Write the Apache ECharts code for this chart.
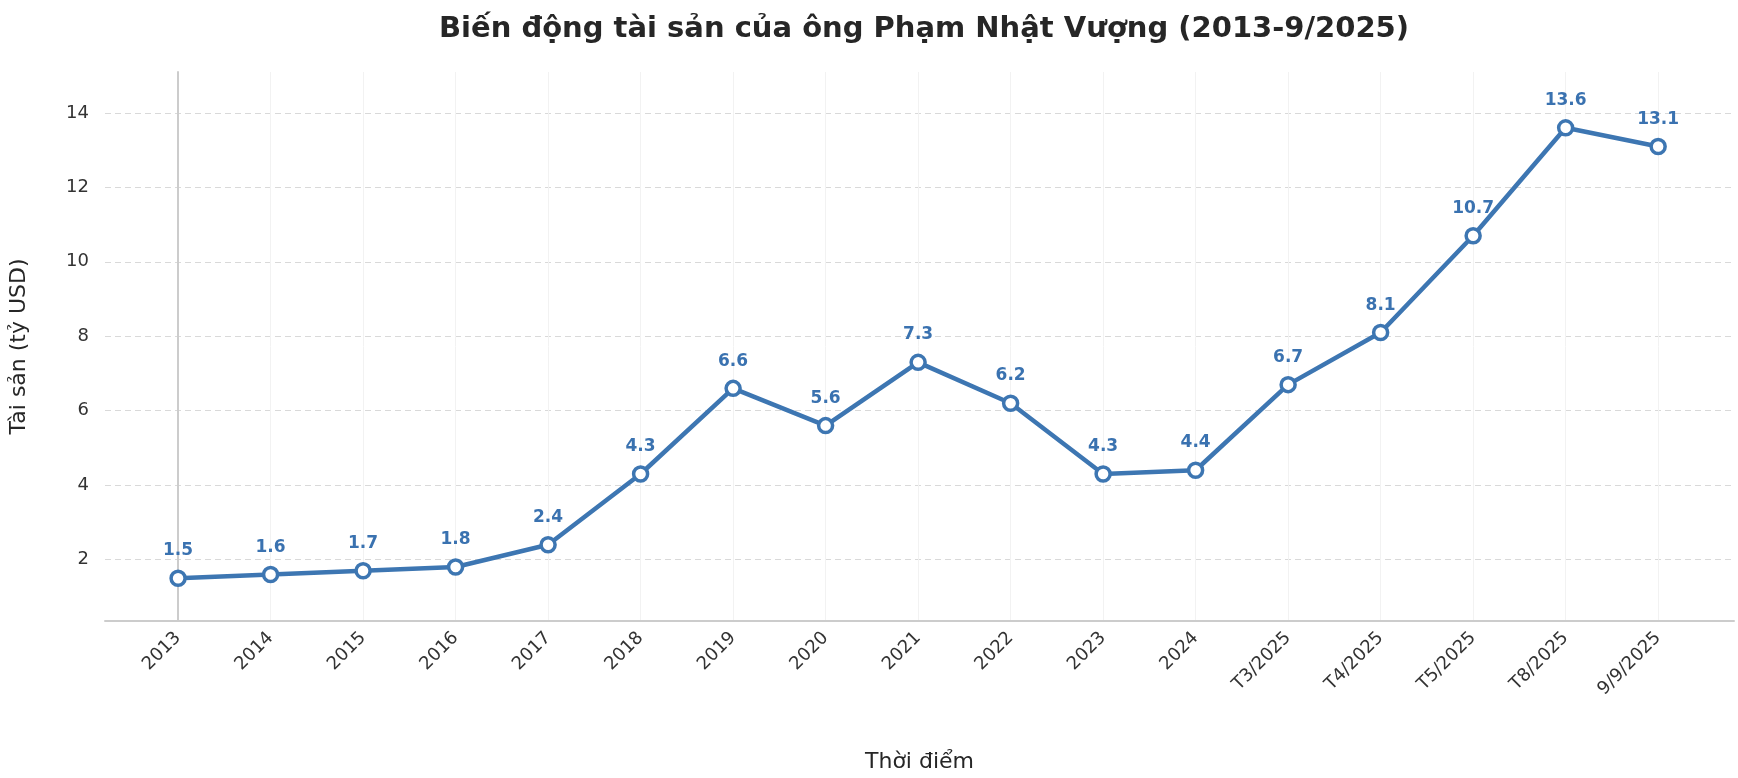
<!DOCTYPE html><html><head><meta charset="utf-8"><script src="https://cdn.jsdelivr.net/npm/echarts@6/dist/echarts.min.js"></script>
<style>html,body{margin:0;padding:0;background:#fff}#c{width:1738px;height:778px}</style></head><body><div id="c"></div><script>
const categories=['2013','2014','2015','2016','2017','2018','2019','2020','2021','2022','2023','2024','T3/2025','T4/2025','T5/2025','T8/2025','9/9/2025'];
const values=[1.5,1.6,1.7,1.8,2.4,4.3,6.6,5.6,7.3,6.2,4.3,4.4,6.7,8.1,10.7,13.6,13.1];
const yTicks=[2,4,6,8,10,12,14];
const idx=categories.map((_,i)=>i);
const chart=echarts.init(document.getElementById('c'));
chart.setOption({
 animation:false,
 title:{text:'Biến động tài sản của ông Phạm Nhật Vượng (2013-9/2025)',left:919,textAlign:'center',top:10,textStyle:{fontFamily:'DejaVu Sans',fontSize:29,fontWeight:'bold',color:'#262626'}},
 grid:{left:105,right:4,top:72,bottom:154},
 xAxis:{type:'value',min:-0.79,max:16.82,name:'Thời điểm',nameLocation:'middle',nameGap:130,
  nameTextStyle:{fontFamily:'DejaVu Sans',fontSize:22,color:'#262626'},
  axisLine:{onZero:false,lineStyle:{color:'#cccccc',width:2}},
  axisTick:{show:false,customValues:idx},
  axisLabel:{customValues:idx,rotate:45,margin:14,fontFamily:'DejaVu Sans',fontSize:18,color:'#333',formatter:v=>categories[Math.round(v)]},
  splitLine:{show:true,lineStyle:{color:'#f2f2f2',width:1}}},
 yAxis:{type:'value',min:0.35,max:15.1,name:'Tài sản (tỷ USD)',nameLocation:'middle',nameGap:75,
  nameTextStyle:{fontFamily:'DejaVu Sans',fontSize:22,color:'#262626'},
  axisLine:{show:true,lineStyle:{color:'#cccccc',width:2}},
  axisTick:{show:false,customValues:yTicks},
  axisLabel:{customValues:yTicks,margin:16,fontFamily:'DejaVu Sans',fontSize:18,color:'#333'},
  splitLine:{show:true,lineStyle:{color:'#d9d9d9',type:[6,4],width:1.2}}},
 series:[{type:'line',data:values.map((v,i)=>[i,v]),symbol:'circle',symbolSize:14,
  lineStyle:{color:'#3d76b2',width:4.5},itemStyle:{color:'#fff',borderColor:'#3d76b2',borderWidth:3.5},
  label:{show:true,position:'top',distance:10,color:'#3a72b0',fontFamily:'DejaVu Sans',fontSize:17,fontWeight:'bold'}}]
});
</script></body></html>
